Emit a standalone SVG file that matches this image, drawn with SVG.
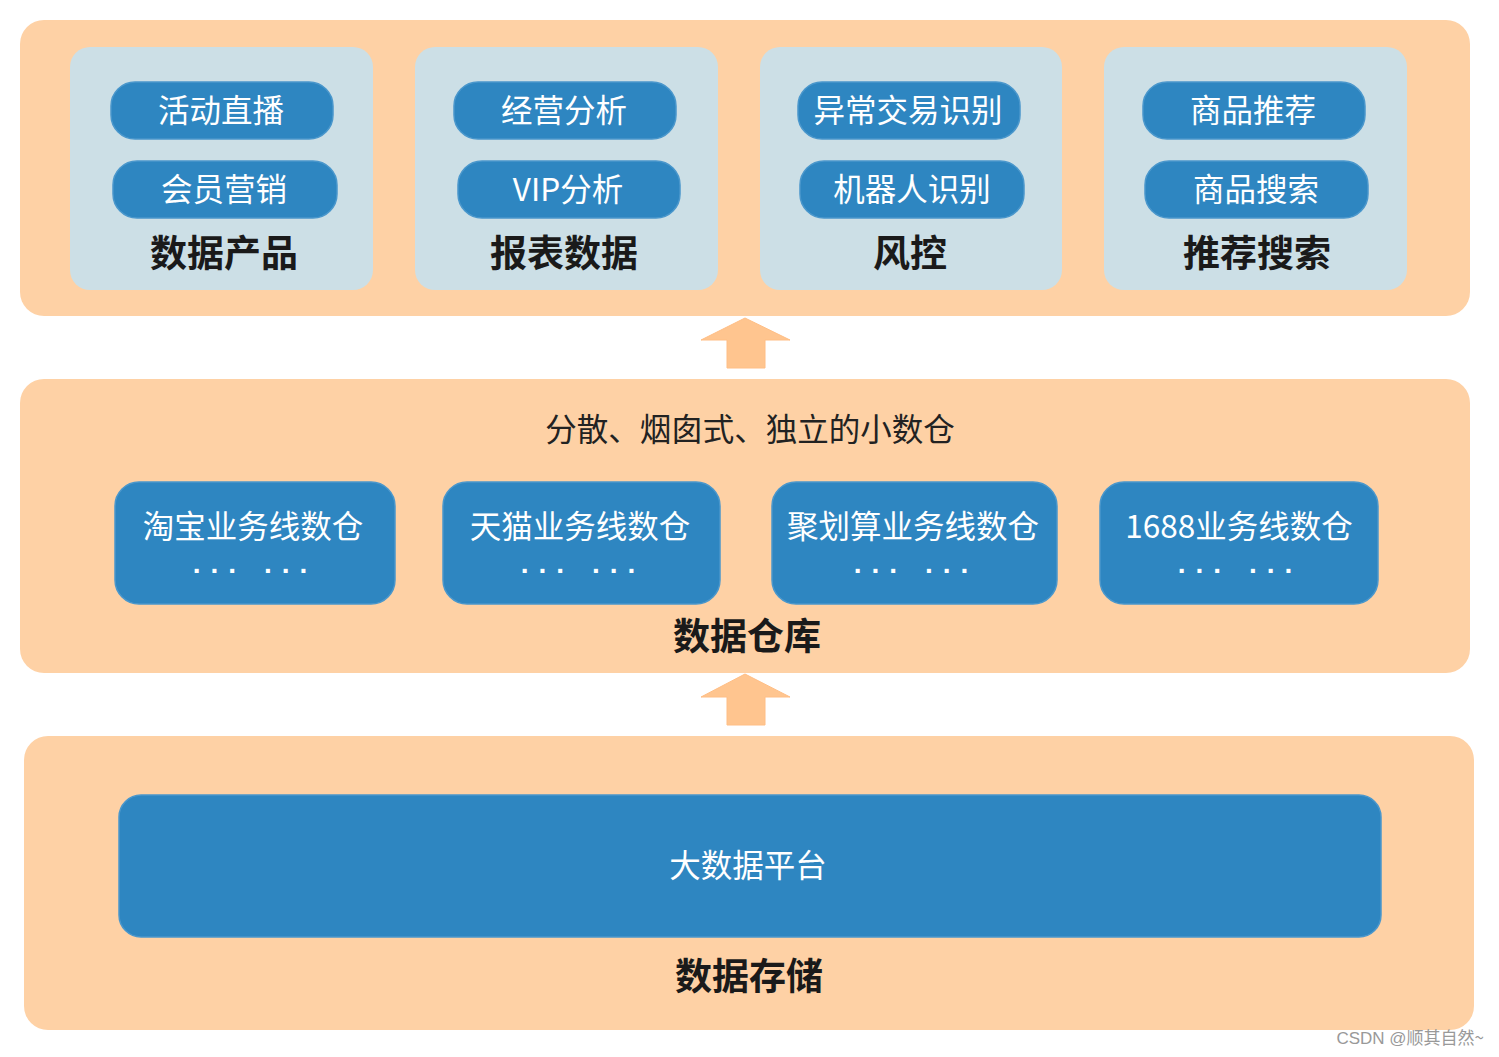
<svg xmlns="http://www.w3.org/2000/svg" width="1499" height="1057" viewBox="0 0 1499 1057">
<style>
.band{fill:#FED1A5}
.panel{fill:#CCDFE6}
.pill{fill:#2E86C1;stroke:#4A97CC;stroke-width:1.5}
.pt{font-family:"Noto Sans CJK SC","Noto Sans",sans-serif;font-size:31.5px;fill:#fff;text-anchor:middle}
.title{font-family:"Noto Sans CJK SC","Noto Sans",sans-serif;font-size:37px;font-weight:bold;fill:#1a1a1a;text-anchor:middle}
.sub{font-family:"Noto Sans CJK SC","Noto Sans",sans-serif;font-size:31.5px;fill:#222;text-anchor:middle}
.dots{font-family:"Liberation Sans",sans-serif;font-size:28px;font-weight:bold;fill:#fff;text-anchor:middle;letter-spacing:10px}
.arrow{fill:#FFC58F;stroke:#FFBE85;stroke-width:1}
</style>
<rect width="1499" height="1057" fill="#fff"/>
<g id="layer-top">
<rect class="band" x="20" y="20" width="1450" height="296" rx="24"/>
</g>
<g id="panel-product">
<rect class="panel" x="70" y="47" width="303" height="243" rx="20"/>
<rect class="pill" x="111" y="82" width="222" height="57" rx="24"/>
<text class="pt" x="221" y="122">活动直播</text>
<rect class="pill" x="113" y="161" width="224" height="57" rx="24"/>
<text class="pt" x="224" y="201">会员营销</text>
<text class="title" x="224" y="267">数据产品</text>
</g>
<g id="panel-report">
<rect class="panel" x="415" y="47" width="303" height="243" rx="20"/>
<rect class="pill" x="454" y="82" width="222" height="57" rx="24"/>
<text class="pt" x="564" y="122">经营分析</text>
<rect class="pill" x="458" y="161" width="222" height="57" rx="24"/>
<text class="pt" x="568" y="201">VIP分析</text>
<text class="title" x="564" y="267">报表数据</text>
</g>
<g id="panel-risk">
<rect class="panel" x="760" y="47" width="302" height="243" rx="20"/>
<rect class="pill" x="798" y="82" width="222" height="57" rx="24"/>
<text class="pt" x="908" y="122">异常交易识别</text>
<rect class="pill" x="800" y="161" width="224" height="57" rx="24"/>
<text class="pt" x="912" y="201">机器人识别</text>
<text class="title" x="910" y="267">风控</text>
</g>
<g id="panel-search">
<rect class="panel" x="1104" y="47" width="303" height="243" rx="20"/>
<rect class="pill" x="1143" y="82" width="222" height="57" rx="24"/>
<text class="pt" x="1253" y="122">商品推荐</text>
<rect class="pill" x="1145" y="161" width="223" height="57" rx="24"/>
<text class="pt" x="1256" y="201">商品搜索</text>
<text class="title" x="1257" y="267">推荐搜索</text>
</g>
<g id="layer-dw">
<rect class="band" x="20" y="379" width="1450" height="294" rx="24"/>
<text class="sub" x="750" y="441">分散、烟囱式、独立的小数仓</text>
<text class="title" x="747" y="650">数据仓库</text>
</g>
<g id="dw-taobao">
<rect class="pill" x="115" y="482" width="280" height="122" rx="24"/>
<text class="pt" x="253" y="538">淘宝业务线数仓</text>
<text class="dots" x="255" y="573">... ...</text>
</g>
<g id="dw-tmall">
<rect class="pill" x="443" y="482" width="277" height="122" rx="24"/>
<text class="pt" x="580" y="538">天猫业务线数仓</text>
<text class="dots" x="583" y="573">... ...</text>
</g>
<g id="dw-juhuasuan">
<rect class="pill" x="772" y="482" width="285" height="122" rx="24"/>
<text class="pt" x="913" y="538">聚划算业务线数仓</text>
<text class="dots" x="916" y="573">... ...</text>
</g>
<g id="dw-1688">
<rect class="pill" x="1100" y="482" width="278" height="122" rx="24"/>
<text class="pt" x="1239" y="538">1688业务线数仓</text>
<text class="dots" x="1240" y="573">... ...</text>
</g>
<g id="layer-storage">
<rect class="band" x="24" y="736" width="1450" height="294" rx="24"/>
<text class="title" x="749" y="990">数据存储</text>
</g>
<g id="bigdata">
<rect class="pill" x="119" y="795" width="1262" height="142" rx="22"/>
<text class="pt" x="748" y="877">大数据平台</text>
</g>
<g id="connectors">
<polygon class="arrow" points="745,318 790,340 765,340 765,368 727,368 727,340 701,340"/>
<polygon class="arrow" points="745,674 790,697 765,697 765,725 727,725 727,697 701,697"/>
</g>
<text x="1484" y="1044" text-anchor="end" font-family="Liberation Sans, sans-serif" font-size="17" fill="#999">CSDN @<tspan font-family="Noto Sans CJK SC, sans-serif">顺其自然~</tspan></text>
</svg>
